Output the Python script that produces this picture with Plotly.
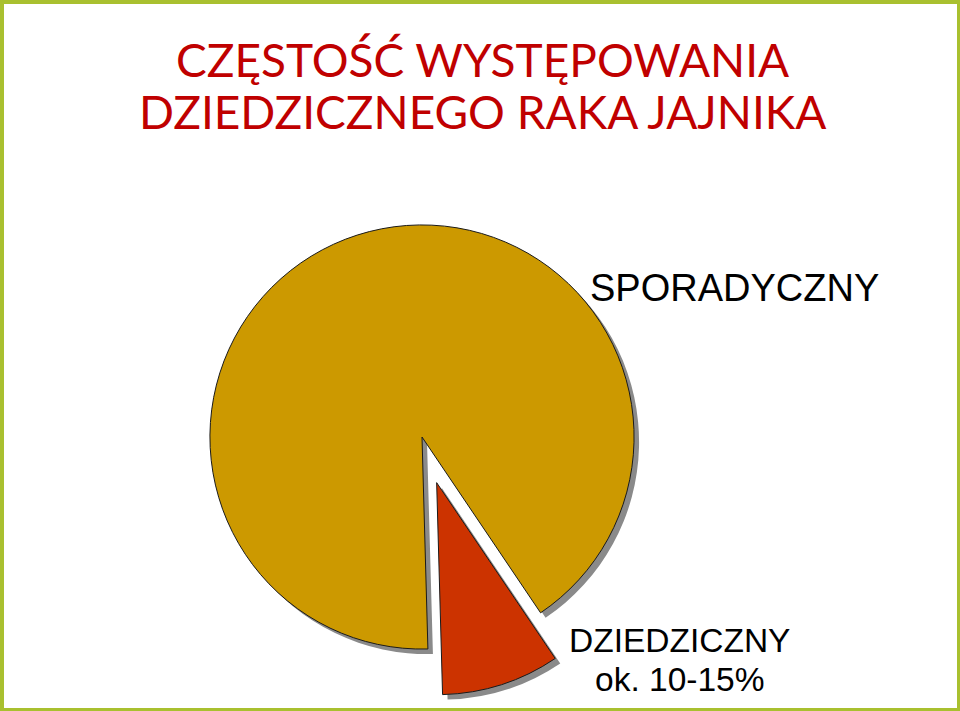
import plotly.graph_objects as go

# dane wykresu
etykiety = ['DZIEDZICZNY', 'SPORADYCZNY']
udzialy = [9, 91]
wysuniecie = [0.226, 0]
kolory = ['#cc3300', '#cc9900']

W, H = 960, 711

# pole kola (w pikselach) -> paper
cx, cy, box = 422, 437, 520
dom_x = [(cx - box / 2) / W, (cx + box / 2) / W]
dom_y = [(H - cy - box / 2) / H, (H - cy + box / 2) / H]

cien = 5  # przesuniecie cienia
dom_x_c = [dom_x[0] + cien / W, dom_x[1] + cien / W]
dom_y_c = [dom_y[0] - cien / H, dom_y[1] - cien / H]

fig = go.Figure()

# cien pod kolem
fig.add_trace(go.Pie(
    labels=etykiety, values=udzialy, pull=wysuniecie,
    sort=False, direction='clockwise', rotation=146,
    marker=dict(colors=['#8a8a8a', '#8a8a8a'], line=dict(width=0)),
    textinfo='none', hoverinfo='none', showlegend=False,
    domain=dict(x=dom_x_c, y=dom_y_c)
))

# wlasciwe kolo
fig.add_trace(go.Pie(
    labels=etykiety, values=udzialy, pull=wysuniecie,
    sort=False, direction='clockwise', rotation=146,
    marker=dict(colors=kolory, line=dict(color='#1a1a1a', width=1)),
    textinfo='none', hoverinfo='label+percent', showlegend=False,
    domain=dict(x=dom_x, y=dom_y)
))

# ramka slajdu
zielony = '#a9c02f'
ramki = [(0, 0, 4, H), (0, 0, W, 4), (W - 3, 0, W, H), (0, H - 3, W, H)]
for x0, y0, x1, y1 in ramki:
    fig.add_shape(type='rect', xref='paper', yref='paper',
                  x0=x0 / W, x1=x1 / W, y0=1 - y0 / H, y1=1 - y1 / H,
                  fillcolor=zielony, line=dict(width=0), layer='above')

# tytul - dwie linie osobno, zeby trzymac odstep
tytul = [('CZĘSTOŚĆ WYSTĘPOWANIA', 59), ('DZIEDZICZNEGO RAKA JAJNIKA', 111.5)]
for linia, yy in tytul:
    fig.add_annotation(
        text=linia, x=482 / W, y=1 - yy / H, xref='paper', yref='paper',
        xanchor='center', yanchor='middle', showarrow=False,
        font=dict(family='Lato', size=46, color='#c00000')
    )

fig.add_annotation(
    text='SPORADYCZNY', x=734 / W, y=1 - 288 / H, xref='paper', yref='paper',
    xanchor='center', yanchor='middle', showarrow=False,
    font=dict(family='Liberation Sans, Arial', size=38, color='black')
)
podpis = [('DZIEDZICZNY', 640.5), ('ok. 10-15%', 679.5)]
for linia, yy in podpis:
    fig.add_annotation(
        text=linia, x=679 / W, y=1 - yy / H, xref='paper', yref='paper',
        xanchor='center', yanchor='middle', showarrow=False,
        font=dict(family='Liberation Sans, Arial', size=33.5, color='black')
    )

fig.update_layout(
    width=W, height=H,
    margin=dict(l=0, r=0, t=0, b=0),
    paper_bgcolor='white', plot_bgcolor='white'
)

fig.write_html("out.html", config={'displayModeBar': False},
               post_script="document.body.style.margin='0';")
